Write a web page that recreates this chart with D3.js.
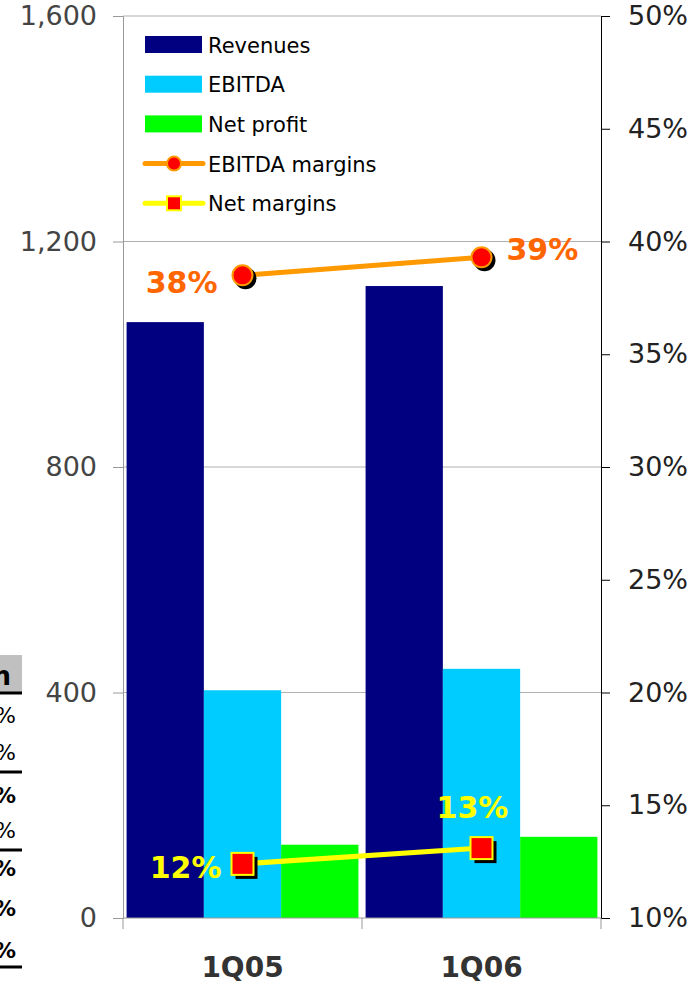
<!DOCTYPE html>
<html>
<head>
<meta charset="utf-8">
<script src="https://cdn.jsdelivr.net/npm/d3@7"></script>
<style>
  body { margin: 0; background: #fff; }
  svg { display: block; font-family: "DejaVu Sans", sans-serif; }
</style>
</head>
<body>
<div id="chart"></div>
<script>
'use strict';

// data
let quarters = ['1Q05', '1Q06'];
let seriesNames = ['Revenues', 'EBITDA', 'Net profit'];
let revenues = [1057, 1121];
let ebitda = [404, 442];
let netProfit = [130, 144];
let ebitdaMargins = [38.5, 39.3];
let netMargins = [12.4, 13.1];
let ebitdaLabels = ['38%', '39%'];
let netLabels = ['12%', '13%'];
let leftTicks = [0, 400, 800, 1200, 1600];
let rightTicks = [10, 15, 20, 25, 30, 35, 40, 45, 50];
let barColors = ['#000080', '#00ccff', '#00ff00'];

let svg = d3.select('div#chart').append('svg')
	.attr('width', 698)
	.attr('height', 986);

let plotLeft = 123, plotRight = 601, plotTop = 16, plotBottom = 918;

let x = d3.scaleBand().domain(quarters).range([plotLeft, plotRight])
	.paddingInner(0.03).paddingOuter(0.015);
let x1 = d3.scaleBand().domain(seriesNames).range([0, x.bandwidth()]);
let y = d3.scaleLinear().domain([0, 1600]).range([plotBottom, plotTop]);
let y2 = d3.scaleLinear().domain([10, 50]).range([plotBottom, plotTop]);

// clipped table fragment at the left edge (it is cut off in the original too)
let frag = svg.append('g').attr('class', 'fragment');
frag.append('rect').attr('x', 0).attr('y', 655).attr('width', 22).attr('height', 38).style('fill', '#c0c0c0');
frag.append('text').attr('x', 11).attr('y', 685).attr('text-anchor', 'end')
	.style('font-size', '26px').style('font-weight', 'bold').text('n');
let fragRows = [[715, false], [752, false], [795, true], [830, false], [868, true], [908, true], [950, true]];
frag.selectAll('text.pct').data(fragRows).join('text').classed('pct', true)
	.attr('x', 16).attr('y', d => d[0] + 8).attr('text-anchor', 'end')
	.style('font-size', '22px').style('font-weight', d => d[1] ? 'bold' : 'normal')
	.text('%');
frag.selectAll('line').data([693, 772, 850, 967]).join('line')
	.attr('x1', 0).attr('x2', 22).attr('y1', d => d).attr('y2', d => d)
	.style('stroke', '#000').style('stroke-width', 3);

// gridlines
svg.append('g').selectAll('line').data(leftTicks.slice(1)).join('line')
	.attr('x1', plotLeft).attr('x2', plotRight)
	.attr('y1', d => y(d)).attr('y2', d => y(d))
	.style('stroke', '#b0b0b0').style('stroke-width', 1);

// bars
let barData = [revenues, ebitda, netProfit];
let groups = svg.append('g').selectAll('g').data(quarters).join('g')
	.attr('transform', d => `translate(${x(d)},0)`);
groups.selectAll('rect.bar')
	.data((q, qi) => seriesNames.map((s, si) => ({s, si, v: barData[si][qi]})))
	.join('rect')
	.classed('bar', true)
	.attr('x', d => x1(d.s))
	.attr('y', d => y(d.v))
	.attr('width', x1.bandwidth())
	.attr('height', d => y(0) - y(d.v))
	.style('fill', d => barColors[d.si]);

// left axis
let leftAxis = svg.append('g')
	.attr('transform', `translate(${plotLeft},0)`)
	.call(d3.axisLeft(y).tickValues(leftTicks).tickFormat(d3.format(',')).tickSize(10).tickPadding(16));
leftAxis.selectAll('path, line').style('stroke', '#999');
leftAxis.selectAll('text').style('font-size', '27px').style('fill', '#444').style('font-family', '"DejaVu Sans", sans-serif');

// right axis
let rightAxis = svg.append('g')
	.attr('transform', `translate(${plotRight},0)`)
	.call(d3.axisRight(y2).tickValues(rightTicks).tickFormat(d => d + '%').tickSize(9).tickPadding(18));
rightAxis.selectAll('path, line').style('stroke', '#000');
rightAxis.selectAll('text').style('font-size', '27px').style('fill', '#222').style('font-family', '"DejaVu Sans", sans-serif');

// bottom axis
let bottomAxis = svg.append('g').attr('transform', `translate(0,${plotBottom})`);
bottomAxis.append('line').attr('x1', plotLeft).attr('x2', plotRight).style('stroke', '#999');
let bounds = [plotLeft, (x(quarters[0]) + x.bandwidth() + x(quarters[1])) / 2, plotRight];
bottomAxis.selectAll('line.tick').data(bounds).join('line').classed('tick', true)
	.attr('x1', d => d).attr('x2', d => d).attr('y1', 0).attr('y2', 11)
	.style('stroke', '#999');
bottomAxis.selectAll('text').data(quarters).join('text')
	.attr('x', d => x(d) + x.bandwidth() / 2)
	.attr('y', 59)
	.attr('text-anchor', 'middle')
	.style('font-size', '28px').style('font-weight', 'bold').style('fill', '#333')
	.text(d => d);

// margin lines
let cx = q => x(q) + x.bandwidth() / 2;
let line = d3.line().x((d, i) => cx(quarters[i])).y(d => y2(d));

svg.append('path').datum(ebitdaMargins).attr('d', line)
	.style('fill', 'none').style('stroke', '#ff9900').style('stroke-width', 5);
svg.append('path').datum(netMargins).attr('d', line)
	.style('fill', 'none').style('stroke', '#ffff00').style('stroke-width', 5);

// markers with shadow
svg.append('g').selectAll('circle').data(ebitdaMargins).join('circle')
	.attr('cx', (d, i) => cx(quarters[i]) + 3).attr('cy', d => y2(d) + 3).attr('r', 11)
	.style('fill', '#000');
svg.append('g').selectAll('circle').data(ebitdaMargins).join('circle')
	.attr('cx', (d, i) => cx(quarters[i])).attr('cy', d => y2(d)).attr('r', 10)
	.style('fill', '#ff0000').style('stroke', '#ff9900').style('stroke-width', 2);

svg.append('g').selectAll('rect').data(netMargins).join('rect')
	.attr('x', (d, i) => cx(quarters[i]) - 11 + 4).attr('y', d => y2(d) - 11 + 4)
	.attr('width', 22).attr('height', 22)
	.style('fill', '#000');
svg.append('g').selectAll('rect').data(netMargins).join('rect')
	.attr('x', (d, i) => cx(quarters[i]) - 11).attr('y', d => y2(d) - 11)
	.attr('width', 22).attr('height', 22)
	.style('fill', '#ff0000').style('stroke', '#ffff00').style('stroke-width', 2);

// value labels
let ebitdaOffsets = [{dx: -25, dy: 18, anchor: 'end'}, {dx: 25, dy: 3, anchor: 'start'}];
svg.append('g').selectAll('text').data(ebitdaMargins).join('text')
	.attr('x', (d, i) => cx(quarters[i]) + ebitdaOffsets[i].dx)
	.attr('y', (d, i) => y2(d) + ebitdaOffsets[i].dy)
	.attr('text-anchor', (d, i) => ebitdaOffsets[i].anchor)
	.style('font-size', '30px').style('font-weight', 'bold').style('fill', '#ff6600')
	.text((d, i) => ebitdaLabels[i]);

let netOffsets = [{dx: -21, dy: 14, anchor: 'end'}, {dx: -9, dy: -30, anchor: 'middle'}];
svg.append('g').selectAll('text').data(netMargins).join('text')
	.attr('x', (d, i) => cx(quarters[i]) + netOffsets[i].dx)
	.attr('y', (d, i) => y2(d) + netOffsets[i].dy)
	.attr('text-anchor', (d, i) => netOffsets[i].anchor)
	.style('font-size', '30px').style('font-weight', 'bold').style('fill', '#ffff00')
	.text((d, i) => netLabels[i]);

// legend
let legendNames = seriesNames.concat(['EBITDA margins', 'Net margins']);
let legend = svg.append('g').selectAll('g').data(legendNames).join('g')
	.attr('transform', (d, i) => `translate(0,${44.5 + i * 39.7})`);
legend.filter((d, i) => i < 3).append('rect')
	.attr('x', 145).attr('y', -8.5).attr('width', 57).attr('height', 17)
	.style('fill', (d, i) => barColors[i]);
legend.filter((d, i) => i >= 3).append('line')
	.attr('x1', 145).attr('x2', 203).attr('y1', 0).attr('y2', 0)
	.style('stroke', (d, i) => i === 0 ? '#ff9900' : '#ffff00').style('stroke-width', 5)
	.style('stroke-linecap', 'round');
legend.filter((d, i) => i === 3).append('circle')
	.attr('cx', 174).attr('cy', 0).attr('r', 7)
	.style('fill', '#ff0000').style('stroke', '#ff9900').style('stroke-width', 2);
legend.filter((d, i) => i === 4).append('rect')
	.attr('x', 167).attr('y', -7).attr('width', 14).attr('height', 14)
	.style('fill', '#ff0000').style('stroke', '#ffff00').style('stroke-width', 2);
legend.append('text')
	.attr('x', 208).attr('y', 8)
	.style('font-size', '21px').style('fill', '#000')
	.text(d => d);
</script>
</body>
</html>
